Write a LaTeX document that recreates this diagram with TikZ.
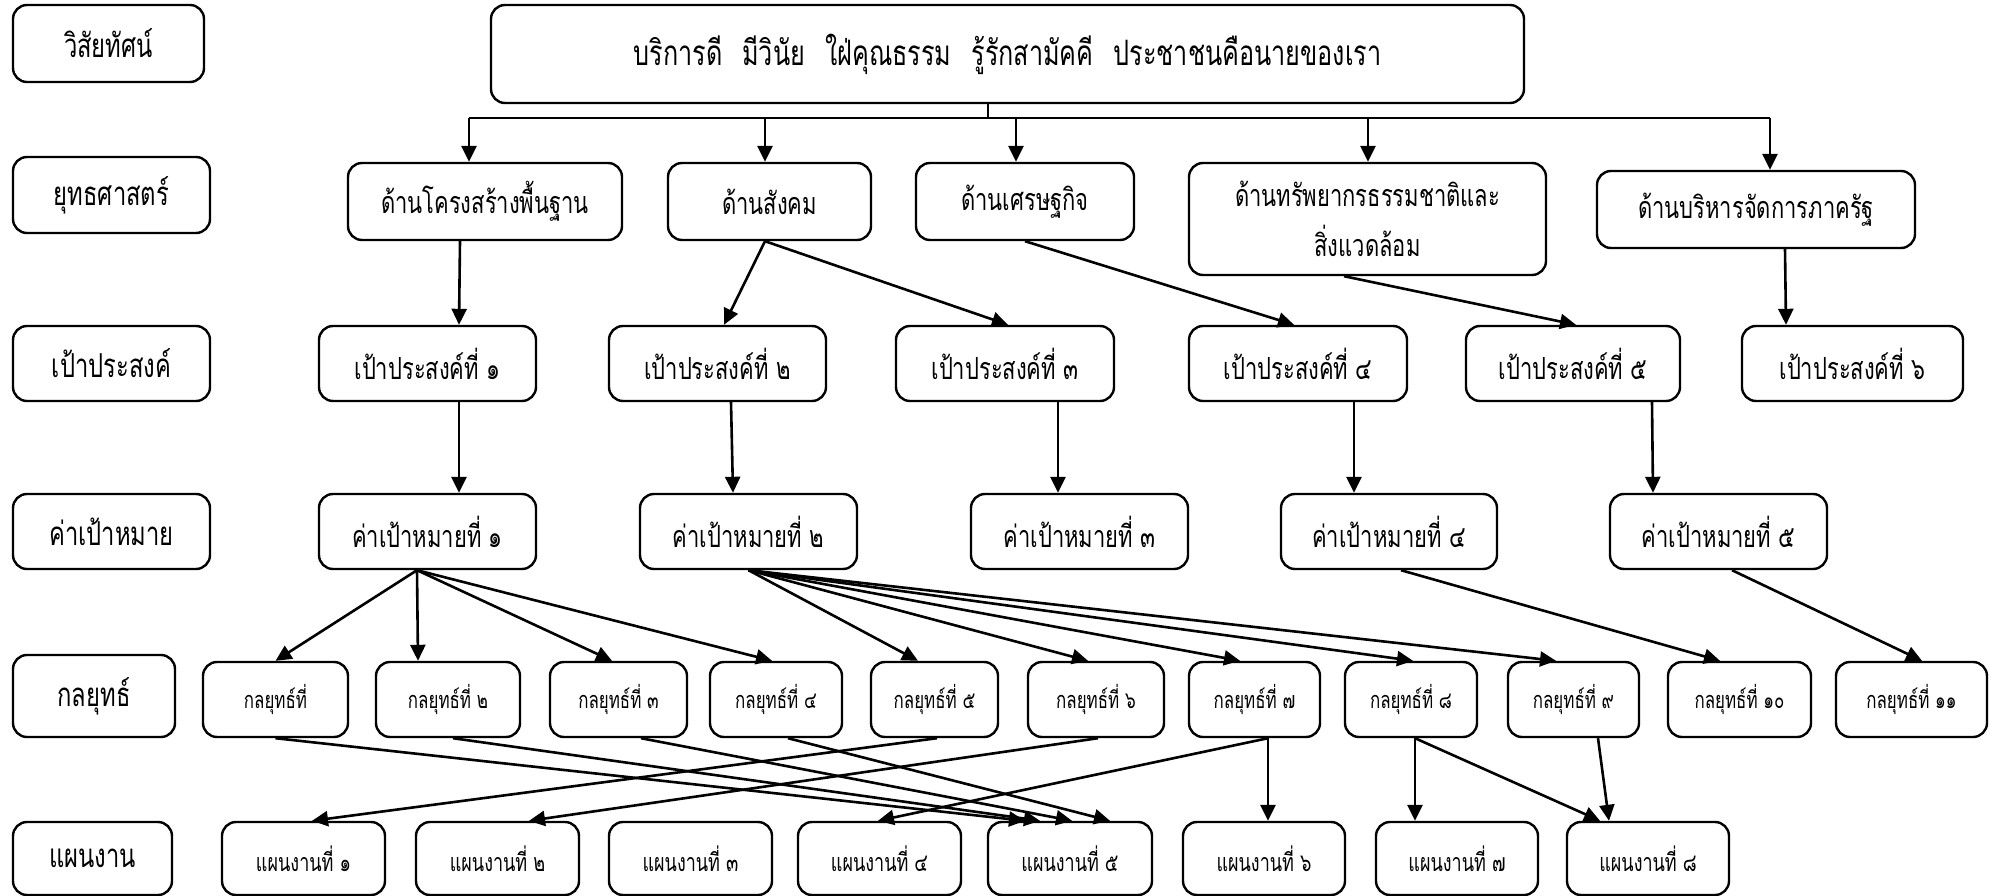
\documentclass[tikz,border=0pt]{standalone}
\usepackage{fontspec}
\newfontfamily\thai[Script=Thai,FakeStretch=0.72]{Loma}
\usetikzlibrary{arrows.meta}

\begin{document}
\begin{tikzpicture}[x=1pt,y=-1pt,
    box/.style={draw,line width=2.4pt,rounded corners=14pt,inner sep=0pt,align=center,font=\thai\fontsize{30.5}{50}\selectfont},
    rowlab/.style={box,font=\thai\fontsize{33}{40}\selectfont},
    smallbox/.style={box,font=\thai\fontsize{23.5}{28}\selectfont},
    planbox/.style={box,font=\thai\fontsize{25}{30}\selectfont},
    ln/.style={line width=2.6pt},
    arr/.style={line width=2.6pt,-{Triangle[length=16pt,width=15pt]}}]
    \useasboundingbox (0,0) rectangle (1990,896);

    \node[rowlab,minimum width=191pt,minimum height=77pt] (lv) at (108.5,43.5) {วิสัยทัศน์};
    \node[box,minimum width=1033pt,minimum height=98pt,font=\thai\fontsize{35}{40}\selectfont] (vis) at (1007.5,54) {บริการดี\hspace{20pt}มีวินัย\hspace{20pt}ใฝ่คุณธรรม\hspace{20pt}รู้รักสามัคคี\hspace{20pt}ประชาชนคือนายของเรา};

    \node[rowlab,minimum width=197pt,minimum height=76pt] (ls) at (111.5,195) {ยุทธศาสตร์};
    \node[box,minimum width=274pt,minimum height=77pt] (s1) at (485,201.5) {ด้านโครงสร้างพื้นฐาน};
    \node[box,minimum width=203pt,minimum height=77pt] (s2) at (769.5,201.5) {ด้านสังคม};
    \node[box,minimum width=218pt,minimum height=77pt] (s3) at (1025,201.5) {ด้านเศรษฐกิจ};
    \node[box,minimum width=357pt,minimum height=112pt] (s4) at (1367.5,219) {ด้านทรัพยากรธรรมชาติและ\\สิ่งแวดล้อม};
    \node[box,minimum width=318pt,minimum height=77pt] (s5) at (1756,209.5) {ด้านบริหารจัดการภาครัฐ};

    \node[rowlab,minimum width=197pt,minimum height=75pt] (lg) at (111.5,363.5) {เป้าประสงค์};
    \node[box,minimum width=217pt,minimum height=75pt] (g1) at (427.5,363.5) {เป้าประสงค์ที่ ๑};
    \node[box,minimum width=217pt,minimum height=75pt] (g2) at (717.5,363.5) {เป้าประสงค์ที่ ๒};
    \node[box,minimum width=218pt,minimum height=75pt] (g3) at (1005,363.5) {เป้าประสงค์ที่ ๓};
    \node[box,minimum width=218pt,minimum height=75pt] (g4) at (1298,363.5) {เป้าประสงค์ที่ ๔};
    \node[box,minimum width=214pt,minimum height=75pt] (g5) at (1573,363.5) {เป้าประสงค์ที่ ๕};
    \node[box,minimum width=221pt,minimum height=75pt] (g6) at (1852.5,363.5) {เป้าประสงค์ที่ ๖};

    \node[rowlab,minimum width=197pt,minimum height=75pt] (lt) at (111.5,531.5) {ค่าเป้าหมาย};
    \node[box,minimum width=217pt,minimum height=75pt] (t1) at (427.5,531.5) {ค่าเป้าหมายที่ ๑};
    \node[box,minimum width=217pt,minimum height=75pt] (t2) at (748.5,531.5) {ค่าเป้าหมายที่ ๒};
    \node[box,minimum width=217pt,minimum height=75pt] (t3) at (1079.5,531.5) {ค่าเป้าหมายที่ ๓};
    \node[box,minimum width=216pt,minimum height=75pt] (t4) at (1389,531.5) {ค่าเป้าหมายที่ ๔};
    \node[box,minimum width=217pt,minimum height=75pt] (t5) at (1718.5,531.5) {ค่าเป้าหมายที่ ๕};

    \node[rowlab,minimum width=162pt,minimum height=82pt] (lk) at (94,696) {กลยุทธ์};
    \node[smallbox,minimum width=145pt,minimum height=75pt] (k1) at (275.5,699.5) {กลยุทธ์ที่};
    \node[smallbox,minimum width=144pt,minimum height=75pt] (k2) at (448,699.5) {กลยุทธ์ที่ ๒};
    \node[smallbox,minimum width=137pt,minimum height=75pt] (k3) at (618.5,699.5) {กลยุทธ์ที่ ๓};
    \node[smallbox,minimum width=132pt,minimum height=75pt] (k4) at (776,699.5) {กลยุทธ์ที่ ๔};
    \node[smallbox,minimum width=127pt,minimum height=75pt] (k5) at (934.5,699.5) {กลยุทธ์ที่ ๕};
    \node[smallbox,minimum width=136pt,minimum height=75pt] (k6) at (1096,699.5) {กลยุทธ์ที่ ๖};
    \node[smallbox,minimum width=131pt,minimum height=75pt] (k7) at (1254.5,699.5) {กลยุทธ์ที่ ๗};
    \node[smallbox,minimum width=132pt,minimum height=75pt] (k8) at (1411,699.5) {กลยุทธ์ที่ ๘};
    \node[smallbox,minimum width=131pt,minimum height=75pt] (k9) at (1573.5,699.5) {กลยุทธ์ที่ ๙};
    \node[smallbox,minimum width=143pt,minimum height=75pt] (k10) at (1739.5,699.5) {กลยุทธ์ที่ ๑๐};
    \node[smallbox,minimum width=151pt,minimum height=75pt] (k11) at (1911.5,699.5) {กลยุทธ์ที่ ๑๑};

    \node[rowlab,minimum width=159pt,minimum height=73pt] (lp) at (92.5,858.5) {แผนงาน};
    \node[planbox,minimum width=163pt,minimum height=73pt] (p1) at (303.5,858.5) {แผนงานที่ ๑};
    \node[planbox,minimum width=163pt,minimum height=73pt] (p2) at (497.5,858.5) {แผนงานที่ ๒};
    \node[planbox,minimum width=163pt,minimum height=73pt] (p3) at (690.5,858.5) {แผนงานที่ ๓};
    \node[planbox,minimum width=163pt,minimum height=73pt] (p4) at (879.5,858.5) {แผนงานที่ ๔};
    \node[planbox,minimum width=164pt,minimum height=73pt] (p5) at (1070,858.5) {แผนงานที่ ๕};
    \node[planbox,minimum width=162pt,minimum height=73pt] (p6) at (1264,858.5) {แผนงานที่ ๖};
    \node[planbox,minimum width=162pt,minimum height=73pt] (p7) at (1457,858.5) {แผนงานที่ ๗};
    \node[planbox,minimum width=162pt,minimum height=73pt] (p8) at (1648,858.5) {แผนงานที่ ๘};

    \coordinate (bus) at (988,118);
    \coordinate (d1) at (469,118);
    \coordinate (d2) at (765,118);
    \coordinate (d3) at (1016,118);
    \coordinate (d4) at (1368,118);
    \coordinate (d5) at (1770,118);
    \draw[ln] (vis.south -| bus) -- (bus);
    \draw[ln] (d1) -- (d5);
    \draw[arr] (d1) -- (d1 |- s1.north);
    \draw[arr] (d2) -- (d2 |- s2.north);
    \draw[arr] (d3) -- (d3 |- s3.north);
    \draw[arr] (d4) -- (d4 |- s4.north);
    \draw[arr] (d5) -- (d5 |- s5.north);

    \draw[arr] ([xshift=-25pt]s1.south) -- ([xshift=31.5pt]g1.north);
    \draw[arr] ([xshift=-4.5pt]s2.south) -- ([xshift=6.5pt]g2.north);
    \draw[arr] ([xshift=-4.5pt]s2.south) -- ([xshift=3pt]g3.north);
    \draw[arr] (s3.south) -- ([xshift=-4pt]g4.north);
    \draw[arr] ([xshift=-23.5pt]s4.south) -- ([xshift=3pt]g5.north);
    \draw[arr] ([xshift=29pt]s5.south) -- ([xshift=-66.5pt]g6.north);

    \draw[arr] ([xshift=31.5pt]g1.south) -- ([xshift=31.5pt]t1.north);
    \draw[arr] ([xshift=13.5pt]g2.south) -- ([xshift=-15.5pt]t2.north);
    \draw[arr] ([xshift=53pt]g3.south) -- ([xshift=-21.5pt]t3.north);
    \draw[arr] ([xshift=56pt]g4.south) -- ([xshift=-35pt]t4.north);
    \draw[arr] ([xshift=79pt]g5.south) -- ([xshift=-65.5pt]t5.north);

    \draw[arr] ([xshift=-10.5pt]t1.south) -- (k1.north);
    \draw[arr] ([xshift=-10.5pt]t1.south) -- ([xshift=-30pt]k2.north);
    \draw[arr] ([xshift=-10.5pt]t1.south) -- ([xshift=-6.5pt]k3.north);
    \draw[arr] ([xshift=-10.5pt]t1.south) -- ([xshift=-4pt]k4.north);
    \draw[arr] (t2.south) -- ([xshift=-16.5pt]k5.north);
    \draw[arr] (t2.south) -- ([xshift=-8pt]k6.north);
    \draw[arr] (t2.south) -- ([xshift=-14.5pt]k7.north);
    \draw[arr] (t2.south) -- ([xshift=2pt]k8.north);
    \draw[arr] (t2.south) -- ([xshift=-17.5pt]k9.north);
    \draw[arr] ([xshift=12pt]t4.south) -- ([xshift=-19.5pt]k10.north);
    \draw[arr] ([xshift=13.5pt]t5.south) -- ([xshift=10.5pt]k11.north);

    \draw[arr] (k1.south) -- ([xshift=-45pt]p5.north);
    \draw[arr] ([xshift=5pt]k2.south) -- ([xshift=-30pt]p5.north);
    \draw[arr] ([xshift=22.5pt]k3.south) -- ([xshift=2pt]p5.north);
    \draw[arr] ([xshift=12pt]k4.south) -- ([xshift=40pt]p5.north);
    \draw[arr] ([xshift=2.5pt]k5.south) -- ([xshift=8.5pt]p1.north);
    \draw[arr] ([xshift=2pt]k6.south) -- ([xshift=31.5pt]p2.north);
    \draw[arr] ([xshift=13.5pt]k7.south) -- ([xshift=-1.5pt]p4.north);
    \draw[arr] ([xshift=13.5pt]k7.south) -- ([xshift=4pt]p6.north);
    \draw[arr] ([xshift=4pt]k8.south) -- ([xshift=-42pt]p7.north);
    \draw[arr] ([xshift=4pt]k8.south) -- ([xshift=-48pt]p8.north);
    \draw[arr] ([xshift=24.5pt]k9.south) -- ([xshift=-39pt]p8.north);
\end{tikzpicture}
\end{document}
